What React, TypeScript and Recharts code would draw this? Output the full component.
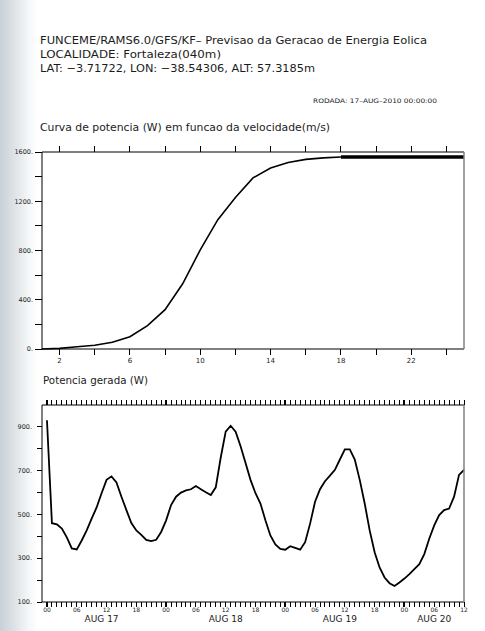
import React from 'react';
import { LineChart, Line, XAxis, YAxis } from 'recharts';

// ---------- Text ----------
const titleLines = [
  'FUNCEME/RAMS6.0/GFS/KF– Previsao da Geracao de Energia Eolica',
  'LOCALIDADE: Fortaleza(040m)',
  'LAT: −3.71722, LON: −38.54306, ALT: 57.3185m',
];
const runLabel = 'RODADA: 17–AUG–2010 00:00:00';
const curveTitle = 'Curva de potencia (W) em funcao da velocidade(m/s)';
const powerTitle = 'Potencia gerada (W)';

// ---------- Power curve (top) ----------
const windSpeedCurve = [1, 2, 3, 4, 5, 6, 7, 8, 9, 10, 11, 12, 13, 14, 15, 16, 17, 18];
const powerCurveW = [0, 5, 18, 30, 55, 100, 190, 320, 530, 805, 1050, 1230, 1390, 1470, 1515, 1540, 1552, 1560];
const windSpeedRated = [18, 19, 20, 21, 22, 23, 24, 25];
const ratedPowerW = [1560, 1560, 1560, 1560, 1560, 1560, 1560, 1560];
const curveXTicks = [2, 4, 6, 8, 10, 12, 14, 16, 18, 20, 22, 24];
const curveXLabels = [2, 6, 10, 14, 18, 22];
const curveYTicks = [0, 200, 400, 600, 800, 1000, 1200, 1400, 1600];
const curveYLabels = [0, 400, 800, 1200, 1600];

// ---------- Generated power (bottom), hourly from AUG 17 00Z ----------
const generatedPowerW = [
  930, 460, 455, 435, 395, 345, 340, 381, 427, 481, 532, 597, 658, 674, 646, 581, 520, 461, 427, 407, 384, 378, 384, 420,
  473, 543, 581, 600, 610, 615, 630, 615, 601, 589, 624, 760, 878, 905, 878, 812, 735, 658, 597, 550, 473, 404, 363, 343,
  339, 355, 347, 339, 373, 458, 558, 615, 652, 677, 704, 751, 797, 797, 751, 658, 550, 427, 327, 258, 212, 186, 173, 189,
  207, 227, 250, 273, 319, 389, 450, 497, 520, 527, 581, 681, 704,
];
const forecastHours = generatedPowerW.map((_, i) => i);
const powerYTicks = [100, 200, 300, 400, 500, 600, 700, 800, 900];
const powerYLabels = [100, 300, 500, 700, 900];
const dayLabels = [
  { hour: 11, label: 'AUG 17' },
  { hour: 36, label: 'AUG 18' },
  { hour: 59, label: 'AUG 19' },
  { hour: 78, label: 'AUG 20' },
];

const allSpeeds = Array.from(new Set([...windSpeedCurve, ...windSpeedRated])).sort((a, b) => a - b);
const curveData = allSpeeds.map((v) => {
  const i = windSpeedCurve.indexOf(v);
  const j = windSpeedRated.indexOf(v);
  return { v, p: i >= 0 ? powerCurveW[i] : null, pr: j >= 0 ? ratedPowerW[j] : null };
});
const powerData = forecastHours.map((h, i) => ({ h, w: generatedPowerW[i] }));

const FONT = '"DejaVu Sans", "Liberation Sans", sans-serif';
const TXT = '#1c1c1c';
const RIGHT = '#808080';

// ---------- tick renderers ----------
const curveXBottomTick = (p: any) => {
  const v = p.payload.value;
  return (
    <g>
      <line x1={p.x} x2={p.x} y1={p.y} y2={p.y + 6} stroke="#000" shapeRendering="crispEdges" />
      {curveXLabels.includes(v) && (
        <text x={p.x} y={p.y + 14} textAnchor="middle" fontSize={7} fontFamily={FONT} fill={TXT}>{v}</text>
      )}
    </g>
  );
};
const curveXTopTick = (p: any) => (
  <line x1={p.x} x2={p.x} y1={p.y} y2={p.y - 6} stroke="#000" shapeRendering="crispEdges" />
);
const curveYLeftTick = (p: any) => {
  const v = p.payload.value;
  return (
    <g>
      <line x1={p.x - 7} x2={p.x} y1={p.y} y2={p.y} stroke="#000" shapeRendering="crispEdges" />
      {curveYLabels.includes(v) && (
        <text x={p.x - 9} y={p.y} dy="0.35em" textAnchor="end" fontSize={6.5} fontFamily={FONT} fill={TXT}>{v + '.'}</text>
      )}
    </g>
  );
};
const rightTick = (p: any) => (
  <line x1={p.x} x2={p.x + 6} y1={p.y} y2={p.y} stroke={RIGHT} shapeRendering="crispEdges" />
);

const powerXBottomTick = (p: any) => {
  const h = p.payload.value;
  const isDay = h % 24 === 0;
  const lbl = h % 6 === 0 ? String(h % 24).padStart(2, '0') : null;
  const dl = dayLabels.find((d) => d.hour === h);
  return (
    <g>
      <line x1={p.x} x2={p.x} y1={p.y} y2={p.y + 5} stroke="#000" strokeWidth={isDay ? 2 : 1} shapeRendering="crispEdges" />
      {lbl && (
        <text x={p.x} y={p.y + 10} textAnchor="middle" fontSize={6} fontFamily={FONT} fill={TXT}>{lbl}</text>
      )}
      {dl && (
        <text x={p.x} y={p.y + 19.5} textAnchor="middle" fontSize={9} fontFamily={FONT} fill={TXT}>{dl.label}</text>
      )}
    </g>
  );
};
const powerXTopTick = (p: any) => {
  const isDay = p.payload.value % 24 === 0;
  return (
    <line x1={p.x} x2={p.x} y1={p.y} y2={p.y - 5} stroke="#000" strokeWidth={isDay ? 2 : 1} shapeRendering="crispEdges" />
  );
};
const powerYLeftTick = (p: any) => {
  const v = p.payload.value;
  return (
    <g>
      <line x1={p.x - 5} x2={p.x} y1={p.y} y2={p.y} stroke="#000" shapeRendering="crispEdges" />
      {powerYLabels.includes(v) && (
        <text x={p.x - 10} y={p.y} dy="0.35em" textAnchor="end" fontSize={6.5} fontFamily={FONT} fill={TXT}>{v + '.'}</text>
      )}
    </g>
  );
};

export default function App() {
  return (
    <div
      style={{
        position: 'absolute',
        left: 0,
        top: 0,
        width: 485,
        height: 631,
        overflow: 'hidden',
        background: 'linear-gradient(to right, #c8d0d7 0px, #dde2e6 14px, #f4f6f7 28px, #ffffff 38px)',
      }}
    >
      <svg width={485} height={631} style={{ position: 'absolute', left: 0, top: 0 }}>
        <g fontFamily={FONT} fill={TXT}>
          <text x={40} y={43.5} fontSize={10.5} textLength={387} lengthAdjust="spacingAndGlyphs">{titleLines[0]}</text>
          <text x={40} y={57.5} fontSize={10.5} textLength={181} lengthAdjust="spacingAndGlyphs">{titleLines[1]}</text>
          <text x={40} y={71.5} fontSize={10.5} textLength={275} lengthAdjust="spacingAndGlyphs">{titleLines[2]}</text>
          <text x={313} y={102.5} fontSize={6.2} textLength={124} lengthAdjust="spacingAndGlyphs">{runLabel}</text>
          <text x={40} y={131} fontSize={10.5} textLength={290} lengthAdjust="spacingAndGlyphs">{curveTitle}</text>
          <text x={43} y={383.5} fontSize={10.5} textLength={105} lengthAdjust="spacingAndGlyphs">{powerTitle}</text>
        </g>
      </svg>

      <div style={{ position: 'absolute', left: 0, top: 140 }}>
        <LineChart width={485} height={230} data={curveData} margin={{ top: 11, right: 20, bottom: 0, left: 0 }}>
          <XAxis
            xAxisId="b"
            dataKey="v"
            type="number"
            domain={[1, 25]}
            ticks={curveXTicks}
            interval={0}
            height={21}
            tickSize={0}
            tickMargin={0}
            tickLine={false}
            axisLine={{ stroke: '#000' }}
            tick={curveXBottomTick}
          />
          <XAxis
            xAxisId="t"
            orientation="top"
            dataKey="v"
            type="number"
            domain={[1, 25]}
            ticks={curveXTicks}
            interval={0}
            height={1}
            tickSize={0}
            tickMargin={0}
            tickLine={false}
            axisLine={{ stroke: '#000' }}
            tick={curveXTopTick}
          />
          <YAxis
            yAxisId="l"
            type="number"
            domain={[0, 1600]}
            ticks={curveYTicks}
            interval={0}
            width={42}
            tickSize={0}
            tickMargin={0}
            tickLine={false}
            axisLine={{ stroke: '#000' }}
            tick={curveYLeftTick}
          />
          <YAxis
            yAxisId="r"
            orientation="right"
            type="number"
            domain={[0, 1600]}
            ticks={curveYTicks}
            interval={0}
            width={1}
            tickSize={0}
            tickMargin={0}
            tickLine={false}
            axisLine={{ stroke: RIGHT, strokeWidth: 1.5 }}
            tick={rightTick}
          />
          <Line xAxisId="b" yAxisId="l" type="linear" dataKey="p" stroke="#000" strokeWidth={1.6} dot={false} isAnimationActive={false} />
          <Line xAxisId="b" yAxisId="l" type="linear" dataKey="pr" stroke="#000" strokeWidth={3.5} dot={false} isAnimationActive={false} />
        </LineChart>
      </div>

      <div style={{ position: 'absolute', left: 0, top: 395 }}>
        <LineChart width={485} height={236} data={powerData} margin={{ top: 9, right: 20, bottom: 0, left: 0 }}>
          <XAxis
            xAxisId="b"
            dataKey="h"
            type="number"
            domain={[-1, 84]}
            ticks={forecastHours}
            interval={0}
            height={29}
            tickSize={0}
            tickMargin={0}
            tickLine={false}
            axisLine={{ stroke: '#000' }}
            tick={powerXBottomTick}
          />
          <XAxis
            xAxisId="t"
            orientation="top"
            dataKey="h"
            type="number"
            domain={[-1, 84]}
            ticks={forecastHours}
            interval={0}
            height={1}
            tickSize={0}
            tickMargin={0}
            tickLine={false}
            axisLine={{ stroke: '#000' }}
            tick={powerXTopTick}
          />
          <YAxis
            yAxisId="l"
            type="number"
            domain={[100, 1000]}
            ticks={powerYTicks}
            interval={0}
            width={42}
            tickSize={0}
            tickMargin={0}
            tickLine={false}
            axisLine={{ stroke: '#000' }}
            tick={powerYLeftTick}
          />
          <YAxis
            yAxisId="r"
            orientation="right"
            type="number"
            domain={[100, 1000]}
            ticks={powerYTicks}
            interval={0}
            width={1}
            tickSize={0}
            tickMargin={0}
            tickLine={false}
            axisLine={{ stroke: RIGHT, strokeWidth: 1.5 }}
            tick={rightTick}
          />
          <Line xAxisId="b" yAxisId="l" type="linear" dataKey="w" stroke="#000" strokeWidth={1.8} dot={false} isAnimationActive={false} />
        </LineChart>
      </div>
    </div>
  );
}
